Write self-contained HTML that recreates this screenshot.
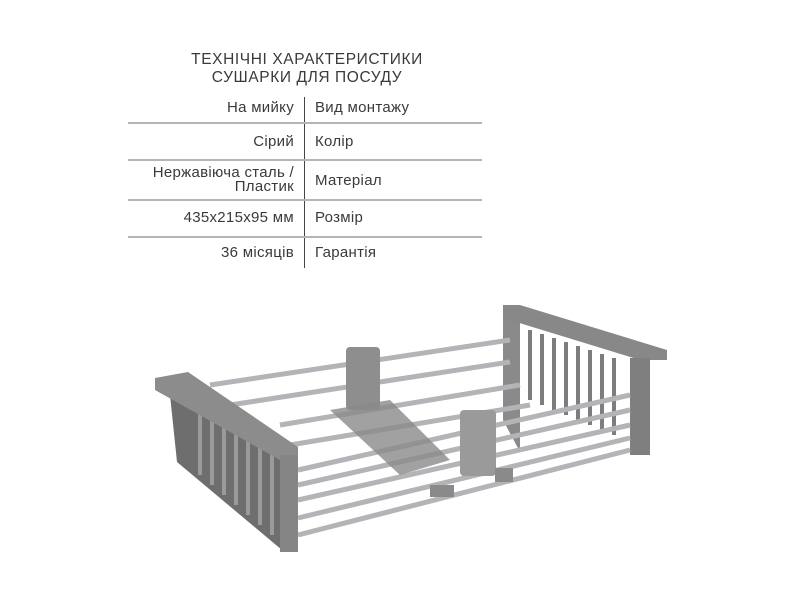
<!DOCTYPE html>
<html><head><meta charset="utf-8"><style>
body{margin:0;width:800px;height:600px;background:#fff;position:relative;overflow:hidden;font-family:"Liberation Sans","DejaVu Sans",sans-serif;color:#3a3a3a}
.t{position:absolute;font-size:15px;white-space:nowrap;line-height:16px;letter-spacing:0.3px}
.l{right:506px;text-align:right}
.r{left:315px}
.h{position:absolute;left:128px;width:354px;height:2px;background:#b5b5b5}
</style></head><body>
<div class="t" style="left:0;width:614px;text-align:center;top:52px;letter-spacing:0.6px;font-size:15.5px">ТЕХНІЧНІ ХАРАКТЕРИСТИКИ</div>
<div class="t" style="left:0;width:614px;text-align:center;top:70px;letter-spacing:0.6px;font-size:15.5px">СУШАРКИ ДЛЯ ПОСУДУ</div>
<div style="position:absolute;left:304px;top:97px;width:1px;height:171px;background:#444"></div>
<div class="h" style="top:122px"></div><div class="h" style="top:159px"></div><div class="h" style="top:199px"></div><div class="h" style="top:236px"></div>
<div class="t l" style="top:100px">На мийку</div><div class="t r" style="top:100px">Вид монтажу</div>
<div class="t l" style="top:134px">Сірий</div><div class="t r" style="top:134px">Колір</div>
<div class="t l" style="top:165px">Нержавіюча сталь /</div><div class="t l" style="top:179px">Пластик</div><div class="t r" style="top:173px">Матеріал</div>
<div class="t l" style="top:210px">435x215x95 мм</div><div class="t r" style="top:210px">Розмір</div>
<div class="t l" style="top:245px">36 місяців</div><div class="t r" style="top:245px">Гарантія</div>
<svg style="position:absolute;left:0;top:0" width="800" height="600">
<polygon points="503,305 520,305 520,452 503,420" fill="#8a8a8a"/>
<g stroke="#7d7d7d" stroke-width="4">
<line x1="530" y1="330" x2="530" y2="400"/><line x1="542" y1="334" x2="542" y2="405"/><line x1="554" y1="338" x2="554" y2="410"/><line x1="566" y1="342" x2="566" y2="415"/><line x1="578" y1="346" x2="578" y2="420"/><line x1="590" y1="350" x2="590" y2="425"/><line x1="602" y1="354" x2="602" y2="430"/><line x1="614" y1="358" x2="614" y2="435"/>
</g>
<polygon points="503,305 520,305 667,350 667,360 640,360 503,318" fill="#888"/>
<polygon points="630,358 650,358 650,455 630,455" fill="#7f7f7f"/>
<g stroke="#b4b4b8" stroke-width="5">
<line x1="210" y1="385" x2="510" y2="340"/><line x1="230" y1="405" x2="510" y2="362"/>
<line x1="280" y1="425" x2="520" y2="385"/><line x1="290" y1="445" x2="530" y2="405"/>
<line x1="298" y1="470" x2="630" y2="395"/><line x1="298" y1="485" x2="630" y2="410"/>
<line x1="298" y1="500" x2="630" y2="425"/><line x1="298" y1="518" x2="630" y2="438"/>
<line x1="298" y1="535" x2="630" y2="450"/>
</g>
<rect x="346" y="347" width="34" height="63" rx="4" fill="#8e8e8e"/>
<rect x="460" y="410" width="36" height="66" rx="4" fill="#9a9a9a"/>
<polygon points="330,410 390,400 450,460 400,475" fill="#8a8a8a" opacity="0.8"/>
<rect x="430" y="485" width="24" height="12" fill="#8a8a8a"/><rect x="495" y="468" width="18" height="14" fill="#8a8a8a"/>
<polygon points="170,395 282,458 282,550 177,462" fill="#6e6e6e"/>
<g stroke="#9a9a9a" stroke-width="4">
<line x1="200" y1="410" x2="200" y2="475"/><line x1="212" y1="418" x2="212" y2="485"/><line x1="224" y1="425" x2="224" y2="495"/><line x1="236" y1="432" x2="236" y2="505"/><line x1="248" y1="440" x2="248" y2="515"/><line x1="260" y1="447" x2="260" y2="525"/><line x1="272" y1="454" x2="272" y2="535"/>
</g>
<polygon points="155,378 188,372 298,447 298,460 280,460 155,390" fill="#8c8c8c"/>
<polygon points="280,455 298,455 298,552 280,552" fill="#858585"/>
</svg>
</body></html>
